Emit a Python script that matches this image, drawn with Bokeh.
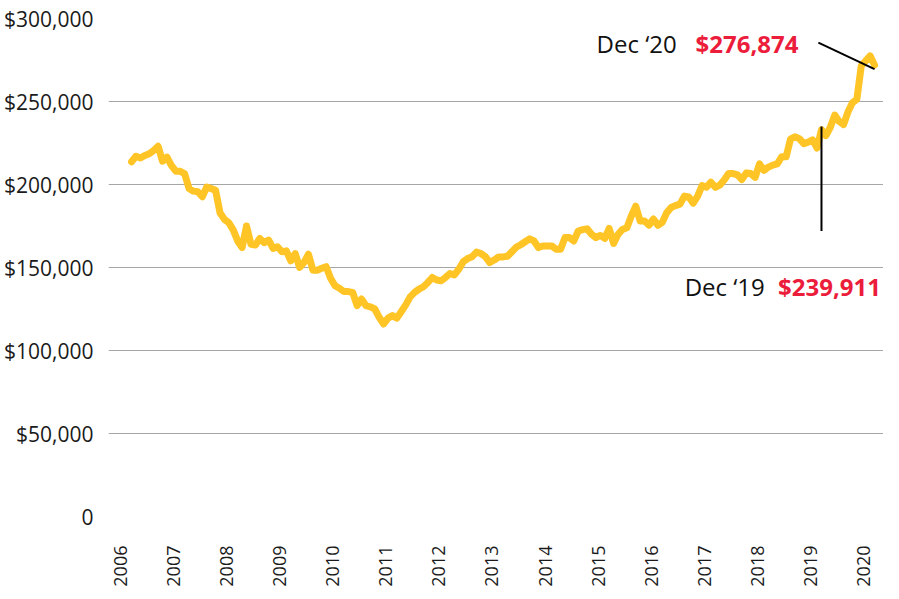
import math
from bokeh.plotting import figure
from bokeh.models import Range1d, FixedTicker, Label
from bokeh.embed import file_html
from bokeh.resources import INLINE

# ---- data ----
year_labels = ["2006", "2007", "2008", "2009", "2010", "2011", "2012", "2013",
               "2014", "2015", "2016", "2017", "2018", "2019", "2020"]
y_ticks = [0, 50000, 100000, 150000, 200000, 250000, 300000]
y_tick_labels = ["0", "$50,000", "$100,000", "$150,000", "$200,000", "$250,000", "$300,000"]

# monthly median price (thousands of $)
prices_k = [
    213.7, 217.0, 216.0, 217.5, 218.5, 220.5, 223.0, 214.0, 216.5, 211.5, 208.0, 208.0,
    206.5, 197.6, 196.0, 195.6, 192.6, 198.5, 197.5, 196.5, 183.0, 179.0, 177.0, 172.5,
    166.0, 162.0, 175.0, 164.0, 163.5, 167.5, 165.0, 166.5, 161.5, 162.5, 159.5, 160.0,
    154.0, 158.4, 150.0, 153.0, 158.0, 148.4, 148.4, 149.5, 150.5, 143.5, 139.0, 137.5,
    135.5, 135.5, 135.0, 127.0, 131.0, 127.0, 126.3, 125.0, 120.0, 116.0, 119.5, 121.0,
    119.5, 123.5, 127.5, 132.3, 135.0, 137.0, 138.4, 141.0, 144.0, 142.5, 142.0, 144.0,
    146.4, 145.5, 149.0, 153.5, 155.4, 156.5, 159.3, 158.4, 156.5, 153.0, 154.5, 156.4,
    156.4, 156.8, 159.5, 162.3, 163.7, 165.5, 167.3, 166.0, 162.0, 163.0, 163.0, 163.0,
    161.0, 161.0, 168.0, 168.0, 166.0, 172.0, 172.8, 173.3, 170.0, 168.0, 169.3, 167.5,
    173.5, 164.5, 170.0, 172.9, 174.0, 181.0, 187.0, 178.0, 178.0, 175.5, 179.2, 175.4,
    177.2, 183.0, 186.2, 187.3, 188.2, 193.0, 192.5, 188.8, 193.0, 199.4, 198.4, 201.4,
    198.3, 199.6, 202.7, 206.6, 206.6, 205.8, 203.0, 207.0, 206.6, 204.3, 212.4, 208.5,
    210.5, 211.7, 212.4, 216.7, 216.7, 227.3, 228.7, 227.6, 224.6, 225.5, 226.9, 222.0,
    233.0, 229.5, 234.5, 241.8, 238.0, 236.1, 243.8, 249.3, 251.4, 271.5, 274.5, 277.5,
    271.9,
]
prices = [v * 1000 for v in prices_k]

dec19_text = "Dec \u201819"
dec19_value = "$239,911"
dec20_text = "Dec \u201820"
dec20_value = "$276,874"

# time axis: month index -> position in year units (first obs sits 2.5 months past the 2006 label)
x = [2006 + (2.5 + m) / 12.0 for m in range(len(prices))]
i_dec19 = len(prices) - 13
i_dec20 = len(prices) - 1

GOLD = "#FFC425"
RED = "#EC1C3B"
GRID = "#A6A6A6"
FONT = "Open Sans"

p = figure(width=883, height=593, output_backend="svg", toolbar_location=None,
           x_range=Range1d(2005.774, 2020.377), y_range=Range1d(0, 300000),
           min_border_left=108, min_border_right=0, min_border_top=18,
           min_border_bottom=77)
p.outline_line_color = None
p.background_fill_color = "white"
p.border_fill_color = "white"

p.xgrid.grid_line_color = None
p.ygrid.grid_line_color = GRID
p.ygrid.grid_line_width = 1

p.yaxis.ticker = FixedTicker(ticks=y_ticks)
p.yaxis.major_label_overrides = {t: l for t, l in zip(y_ticks, y_tick_labels)}
p.yaxis.axis_line_color = None
p.yaxis.major_tick_line_color = None
p.yaxis.minor_tick_line_color = None
p.yaxis.major_tick_out = 0
p.yaxis.major_tick_in = 0
p.yaxis.major_label_standoff = 15
p.yaxis.major_label_text_font = FONT
p.yaxis.major_label_text_font_size = "21px"
p.yaxis.major_label_text_color = "#1a1a1a"

year_ticks = [int(y) for y in year_labels]
p.xaxis.ticker = FixedTicker(ticks=year_ticks)
p.xaxis.major_label_overrides = {t: l for t, l in zip(year_ticks, year_labels)}
p.xaxis.axis_line_color = None
p.xaxis.major_tick_line_color = None
p.xaxis.minor_tick_line_color = None
p.xaxis.major_tick_out = 0
p.xaxis.major_tick_in = 0
p.xaxis.major_label_standoff = 29
p.xaxis.major_label_orientation = math.pi / 2
p.xaxis.major_label_text_font = FONT
p.xaxis.major_label_text_font_size = "18px"
p.xaxis.major_label_text_color = "#1a1a1a"

p.line(x, prices, line_color=GOLD, line_width=7, line_join="round", line_cap="round")

# annotation lines
p.segment(x0=[x[i_dec19]], y0=[prices[i_dec19] + 2000], x1=[x[i_dec19]], y1=[172000],
          line_color="black", line_width=2)
p.segment(x0=[2019.15], y0=[285500], x1=[x[i_dec20]], y1=[269500],
          line_color="black", line_width=2)

p.add_layout(Label(x=2016.48, y=285000, text=dec20_text, text_font=FONT,
                   text_font_size="24px", text_align="right", text_baseline="middle",
                   text_color="#111111"))
p.add_layout(Label(x=2016.835, y=285000, text=dec20_value, text_font=FONT,
                   text_font_size="24px", text_font_style="bold", text_align="left",
                   text_baseline="middle", text_color=RED))
p.add_layout(Label(x=2018.14, y=138500, text=dec19_text, text_font=FONT,
                   text_font_size="24px", text_align="right", text_baseline="middle",
                   text_color="#111111"))
p.add_layout(Label(x=2018.39, y=138500, text=dec19_value, text_font=FONT,
                   text_font_size="24px", text_font_style="bold", text_align="left",
                   text_baseline="middle", text_color=RED))

open("out.html", "w").write(file_html(p, INLINE))
